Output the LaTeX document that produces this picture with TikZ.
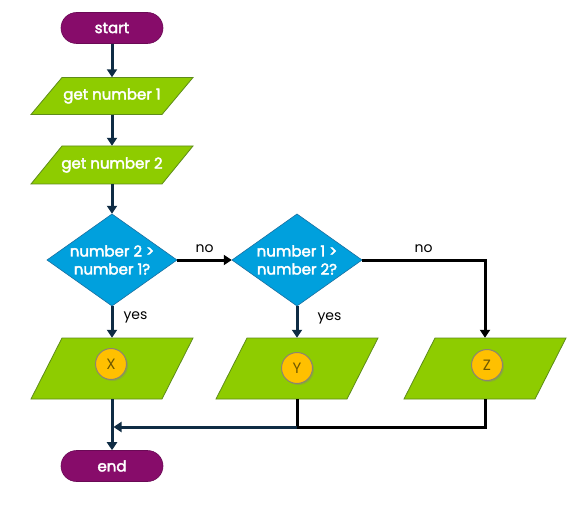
\documentclass[tikz,border=0pt]{standalone}
\usepackage{fontspec}
\setmainfont{Poppins}
\newfontfamily\semibold{Poppins}[FakeBold=2.5]
\usetikzlibrary{arrows.meta,shadows}
\definecolor{tpurple}{HTML}{870C6A}
\definecolor{tpurpleb}{HTML}{6A0A55}
\definecolor{tgreen}{HTML}{8ECC00}
\definecolor{tgreenb}{HTML}{5E8C1A}
\definecolor{tblue}{HTML}{00A0DD}
\definecolor{tblueb}{HTML}{1A6FA0}
\definecolor{torange}{HTML}{FFC000}
\definecolor{tnavy}{HTML}{0F2C44}
\definecolor{tletter}{HTML}{6E5800}
\definecolor{tcoinb}{HTML}{8C8470}
\newcommand\boxfont{\fontsize{15}{18}\selectfont\semibold}
\newcommand\pgram[5]{%
  \filldraw[pgshape] ({#2-50},{#3-#4/2}) -- ({#2+81},{#3-#4/2}) -- ({#2+50},{#3+#4/2}) -- ({#2-81},{#3+#4/2}) -- cycle;
  \node[pgtext, minimum height=#4] (#1) at (#2,#3) {#5};}
\newcommand\decis[4]{%
  \filldraw[dshape] ({#2-65},{#3}) -- ({#2},{#3-46}) -- ({#2+65},{#3}) -- ({#2},{#3+46}) -- cycle;
  \node[dtext] (#1) at (#2,#3) {#4};}
\tikzset{
  term/.style={rectangle, rounded corners=15.5pt, fill=tpurple, draw=tpurpleb, line width=0.6pt,
    minimum width=102pt, minimum height=31pt, inner sep=0pt, text=white, font=\boxfont},
  pgshape/.style={fill=tgreen, draw=tgreenb, line width=0.8pt},
  pgtext/.style={rectangle, minimum width=131pt, inner sep=0pt, text=white, font=\boxfont},
  dshape/.style={fill=tblue, draw=tblueb, line width=0.6pt},
  dtext/.style={rectangle, minimum width=130pt, minimum height=92pt, inner sep=0pt, text=white,
    align=center, font=\boxfont},
  coin/.style={circle, minimum size=31pt, inner sep=0pt, fill=torange, draw=tcoinb, line width=1pt,
    drop shadow={shadow xshift=1.5pt, shadow yshift=-1.5pt, opacity=0.35},
    text=tletter, font=\fontsize{15}{17}\selectfont},
  navarrow/.style={draw=tnavy, line width=3pt, -{Triangle[width=10pt,length=8pt]}},
  navline/.style={draw=tnavy, line width=3pt},
  blkarrow/.style={draw=black, line width=3pt, -{Triangle[width=10pt,length=8pt]}},
  blkline/.style={draw=black, line width=3pt},
  lbl/.style={font=\fontsize{14}{16}\selectfont, text=black, inner sep=0pt},
}
\begin{document}
\begin{tikzpicture}[x=1pt, y=-1pt]
\useasboundingbox (0,0) rectangle (583,505);
\node[term] (start) at (112,28) {start};
\pgram{gn1}{112}{96}{37}{get number 1}
\pgram{gn2}{112}{165}{38}{get number 2}
\decis{d1}{112}{260}{number 2 >\\number 1?}
\decis{d2}{297}{260}{number 1 >\\number 2?}
\pgram{X}{112}{368.5}{61}{}
\pgram{Y}{297}{368.5}{61}{}
\pgram{Z}{485}{368.5}{61}{}
\node[coin] (cx) at (111,364) {X};
\node[coin] (cy) at (297,368) {Y};
\node[coin] (cz) at (487,365) {Z};
\node[term] (end) at (112,466) {end};
\coordinate (m1) at (297,427);
\draw[navarrow] (start) -- (gn1);
\draw[navarrow] (gn1) -- (gn2);
\draw[navarrow] (gn2) -- (d1);
\draw[navarrow] (d1) -- node[lbl, pos=0.35, right=10pt] {yes} (X);
\draw[blkarrow] (d1) -- node[lbl, above=6pt] {no} (d2);
\draw[blkarrow] (d2.east) -| node[lbl, pos=0.25, above=6pt] {no} (Z.north);
\draw[navarrow] (d2) -- node[lbl, pos=0.4, right=19pt] {yes} (Y);
\draw[navarrow] (X) -- (end);
\draw[blkline] (Z.south) |- (m1);
\draw[blkline] (Y.south) -- (m1);
\draw[navarrow, shorten >=1.5pt] (m1) -- (m1 -| X.south);
\end{tikzpicture}
\end{document}
